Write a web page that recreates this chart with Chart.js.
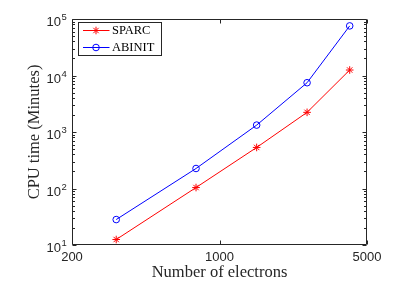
<!DOCTYPE html>
<html>
<head>
<meta charset="utf-8">
<script src="https://cdn.jsdelivr.net/npm/chart.js@4.4.0/dist/chart.umd.min.js"></script>
<style>
html,body{margin:0;padding:0;background:#fff;}
canvas{display:block;}
</style>
</head>
<body>
<canvas id="c" width="399" height="299" style="width:399px;height:299px"></canvas>
<script>
const electrons = [324, 774, 1500, 2600, 4140];
const sparcTime = [12.5, 104, 533, 2227, 12500];
const abinitTime = [28.2, 226, 1325, 7450, 75500];
const xTickValues = [200, 1000, 5000];
const yTickValues = [10, 100, 1000, 10000, 100000];
const seriesNames = ['SPARC', 'ABINIT'];
const xTitle = 'Number of electrons';
const yTitle = 'CPU time (Minutes)';

const AXIS = '#262626';
const SANS = '"Liberation Sans", Arial, Helvetica, sans-serif';
const SERIF = '"Liberation Serif", "Times New Roman", serif';

function pts(xs, ys){ return xs.map((x,i)=>({x:x, y:ys[i]})); }

const decor = {
  id:'decor',
  afterDraw(chart){
    const ctx = chart.ctx;
    const a = chart.chartArea;
    const xs = chart.scales.x, ys = chart.scales.y;
    const L = Math.round(a.left)+0.5, R = Math.round(a.right)-0.5;
    const T = Math.round(a.top)+0.5, B = Math.round(a.bottom)-0.5;
    ctx.save();
    ctx.strokeStyle = AXIS;
    ctx.lineWidth = 1;
    ctx.beginPath();
    ctx.rect(L, T, R-L, B-T);
    ctx.stroke();
    ctx.beginPath();
    for (let e = 1; e <= 5; e++) {
      for (let k = 1; k <= 9; k++) {
        if (e === 5 && k > 1) break;
        const v = k*Math.pow(10,e);
        const y = Math.round(ys.getPixelForValue(v)) + 0.5;
        const len = (k === 1) ? 4 : 2.5;
        ctx.moveTo(L, y); ctx.lineTo(L+len, y);
        ctx.moveTo(R, y); ctx.lineTo(R-len, y);
      }
    }
    xTickValues.forEach(v=>{
      const x = Math.round(xs.getPixelForValue(v)) + 0.5;
      ctx.moveTo(x, B); ctx.lineTo(x, B-4);
      ctx.moveTo(x, T); ctx.lineTo(x, T+4);
    });
    ctx.stroke();

    ctx.fillStyle = AXIS;
    ctx.textBaseline = 'alphabetic';
    yTickValues.forEach(v=>{
      const y = ys.getPixelForValue(v);
      const ex = String(Math.round(Math.log10(v)));
      ctx.font = '13px ' + SANS;
      ctx.textAlign = 'right';
      ctx.fillText('10', 61, y + 7);
      ctx.font = '9.5px ' + SANS;
      ctx.textAlign = 'left';
      ctx.fillText(ex, 61.5, y + 1);
    });

    const bx = 78.5, by = 22.5, bw = 83, bh = 33;
    ctx.fillStyle = '#fff';
    ctx.fillRect(bx, by, bw, bh);
    ctx.strokeStyle = AXIS;
    ctx.lineWidth = 1;
    ctx.strokeRect(bx, by, bw, bh);
    const rows = [30.5, 47.5];
    chart.data.datasets.forEach((ds, i)=>{
      const yy = rows[i];
      ctx.strokeStyle = ds.borderColor;
      ctx.lineWidth = 1;
      ctx.beginPath();
      ctx.moveTo(83, yy); ctx.lineTo(109.5, yy);
      ctx.stroke();
      const cx = 96, r = ds.pointRadius;
      ctx.beginPath();
      if (ds.pointStyle === 'star') {
        for (let j = 0; j < 4; j++) {
          const ang = j*Math.PI/4;
          ctx.moveTo(cx - r*Math.cos(ang), yy - r*Math.sin(ang));
          ctx.lineTo(cx + r*Math.cos(ang), yy + r*Math.sin(ang));
        }
      } else {
        ctx.arc(cx, yy, r, 0, Math.PI*2);
      }
      ctx.stroke();
      ctx.fillStyle = '#000';
      ctx.font = '12.5px ' + SERIF;
      ctx.textAlign = 'left';
      ctx.textBaseline = 'middle';
      ctx.fillText(ds.label, 112, yy + 0.5);
    });
    ctx.restore();
  }
};

new Chart(document.getElementById('c'), {
  type: 'scatter',
  data: {
    datasets: [
      {
        label: seriesNames[0],
        data: pts(electrons, sparcTime),
        showLine: true,
        borderColor: '#ff0000',
        backgroundColor: 'rgba(0,0,0,0)',
        borderWidth: 1,
        pointStyle: 'star',
        pointRadius: 3.8,
        pointBorderWidth: 1,
        pointBorderColor: '#ff0000',
        pointBackgroundColor: 'rgba(0,0,0,0)',
        tension: 0
      },
      {
        label: seriesNames[1],
        data: pts(electrons, abinitTime),
        showLine: true,
        borderColor: '#0000ff',
        backgroundColor: 'rgba(0,0,0,0)',
        borderWidth: 1,
        pointStyle: 'circle',
        pointRadius: 3.3,
        pointBorderWidth: 1,
        pointBorderColor: '#0000ff',
        pointBackgroundColor: 'rgba(0,0,0,0)',
        tension: 0
      }
    ]
  },
  options: {
    responsive: false,
    devicePixelRatio: 1,
    animation: false,
    layout: { padding: { left: 0, right: 32, top: 19, bottom: 0 } },
    plugins: { legend: { display: false }, tooltip: { enabled: false } },
    scales: {
      x: {
        type: 'logarithmic',
        min: 200, max: 5000,
        grid: { display: false, drawTicks: false },
        border: { display: false },
        afterBuildTicks: s => { s.ticks = xTickValues.map(v => ({ value: v })); },
        afterFit: s => { s.height = 54; },
        ticks: {
          autoSkip: false, maxRotation: 0,
          color: AXIS,
          font: { family: SANS, size: 13 },
          padding: 5,
          callback: v => String(v)
        },
        title: {
          display: true, text: xTitle, color: AXIS,
          font: { family: SERIF, size: 16.5 },
          padding: { top: 0, bottom: 16 }
        }
      },
      y: {
        type: 'logarithmic',
        min: 10, max: 100000,
        grid: { display: false, drawTicks: false },
        border: { display: false },
        afterBuildTicks: s => { s.ticks = yTickValues.map(v => ({ value: v })); },
        afterFit: s => { s.width = 72; },
        ticks: { display: false },
        title: {
          display: true, text: yTitle, color: AXIS,
          font: { family: SERIF, size: 16.5 },
          padding: { top: 25, bottom: 0 }
        }
      }
    }
  },
  plugins: [decor]
});
</script>
</body>
</html>
